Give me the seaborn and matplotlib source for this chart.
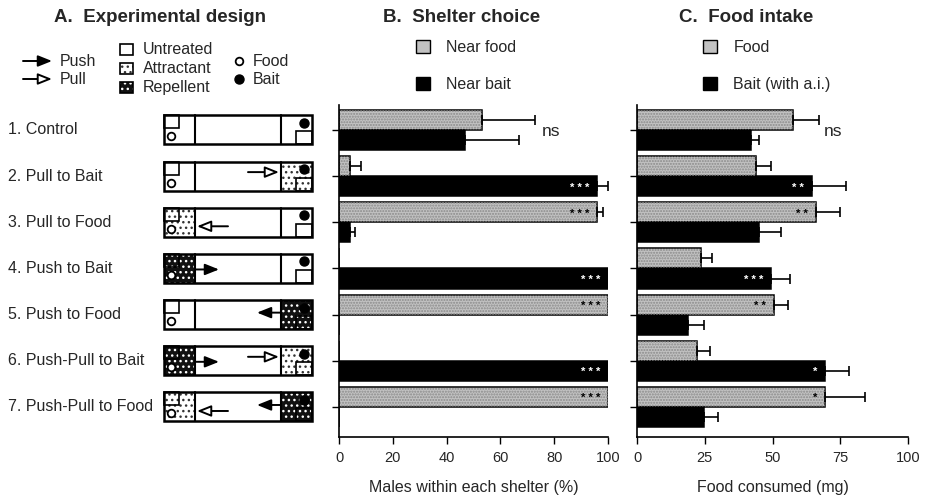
import numpy as np
import pandas as pd
import matplotlib
matplotlib.use("Agg")
import matplotlib.pyplot as plt
import seaborn as sns
from matplotlib.patches import Rectangle, Patch

# ---------------- data ----------------
treatments = ["1. Control", "2. Pull to Bait", "3. Pull to Food", "4. Push to Bait",
              "5. Push to Food", "6. Push-Pull to Bait", "7. Push-Pull to Food"]
left_treat = ["U", "U", "A", "R", "U", "R", "A"]     # U untreated, A attractant, R repellent
right_treat = ["U", "A", "U", "U", "R", "A", "R"]
pull_dir = [0, 1, -1, 0, 0, 1, -1]    # +1 pull toward right (bait), -1 toward left (food)
push_dir = [0, 0, 0, 1, -1, 1, -1]    # +1 push from left, -1 push from right

shelter_series = ["Near food", "Near bait"]
shelter_food = [53, 4, 96, 0, 100, 0, 100]
shelter_food_err = [20, 4, 2, 0, 0, 0, 0]
shelter_bait = [47, 96, 4, 100, 0, 100, 0]
shelter_bait_err = [20, 4, 2, 0, 0, 0, 0]
shelter_food_sig = ["", "", "***", "", "***", "", "***"]
shelter_bait_sig = ["", "***", "", "***", "", "***", ""]

intake_series = ["Food", "Bait (with a.i.)"]
intake_food = [57.5, 44, 66, 23.5, 50.5, 22, 69.5]
intake_food_err = [9.5, 5.5, 9, 4, 5.3, 5, 14.5]
intake_bait = [42, 64.5, 45, 49.5, 19, 69.4, 24.7]
intake_bait_err = [3, 12.5, 8, 7, 5.7, 8.8, 5.3]
intake_food_sig = ["", "", "**", "", "**", "", "*"]
intake_bait_sig = ["", "**", "", "***", "", "*", ""]

shelter_ticks = [0, 20, 40, 60, 80, 100]
intake_ticks = [0, 25, 50, 75, 100]

GREY = "#c2c2c2"
BLACK = "#000000"
FS = 11.5

# ---------------- figure ----------------
W, H = 926, 499
sns.set_theme(style="white")
plt.rcParams["font.family"] = ["Liberation Sans", "DejaVu Sans"]
fig = plt.figure(figsize=(W / 100, H / 100), dpi=100)

def fx(px):
    return px / W

def fy(py):
    return 1 - py / H

y_top_px, y_bot_px = 105, 437
YLIM = (6.65, -0.54)
ax_b = fig.add_axes([fx(339), fy(y_bot_px), fx(608) - fx(339), fy(y_top_px) - fy(y_bot_px)])
ax_c = fig.add_axes([fx(637), fy(y_bot_px), fx(908) - fx(637), fy(y_top_px) - fy(y_bot_px)])
ax_a = fig.add_axes([0, fy(y_bot_px), fx(330), fy(y_top_px) - fy(y_bot_px)])
ax_o = fig.add_axes([0, 0, 1, 1], zorder=-1)
ax_o.set_xlim(0, W)
ax_o.set_ylim(H, 0)
ax_o.axis("off")


def bar_panel(ax, series, v1, e1, v2, e2, s1, s2, ticks, xlabel, ns_x):
    df = pd.DataFrame({
        "treatment": treatments * 2,
        "value": list(v1) + list(v2),
        "series": [series[0]] * len(treatments) + [series[1]] * len(treatments),
    })
    sns.barplot(data=df, y="treatment", x="value", hue="series", hue_order=series,
                order=treatments, orient="h", palette=[GREY, BLACK], saturation=1,
                edgecolor="black", linewidth=1.1, width=0.87, errorbar=None,
                legend=False, ax=ax)
    # stipple texture on the grey bars
    for b in ax.containers[0]:
        if b.get_width() > 0:
            ax.add_patch(Rectangle((b.get_x(), b.get_y()), b.get_width(), b.get_height(),
                                   facecolor="none", edgecolor="#8a8a8a", hatch="......",
                                   lw=0, zorder=2.5))
    for cont, vals, errs, sigs, scol in zip(ax.containers, [v1, v2], [e1, e2], [s1, s2],
                                            ["black", "white"]):
        ys = [b.get_y() + b.get_height() / 2 for b in cont]
        for yv, v, e, s in zip(ys, vals, errs, sigs):
            if e > 0:
                ax.errorbar(v, yv, xerr=[[0], [e]], fmt="none", ecolor="black",
                            elinewidth=1.2, capsize=3.8, capthick=1.2, zorder=3)
            if s:
                ax.text(v - 3, yv + 0.03, " ".join(s), ha="right", va="center",
                        color=scol, fontsize=8, fontweight="bold", zorder=4)
    ax.text(ns_x, 0.03, "ns", ha="left", va="center", fontsize=12.5)
    ax.set_xlim(0, 100)
    ax.set_ylim(*YLIM)
    ax.set_xticks(ticks)
    ax.set_xticklabels([str(t) for t in ticks], fontsize=10.5)
    ax.set_yticks(range(len(treatments)))
    ax.set_yticklabels([])
    ax.set_xlabel(xlabel, fontsize=FS, labelpad=11)
    ax.set_ylabel("")
    ax.tick_params(axis="both", direction="out", length=5, width=1, color="black",
                   left=True, bottom=True, pad=5)
    for sp in ["top", "right"]:
        ax.spines[sp].set_visible(False)
    for sp in ["left", "bottom"]:
        ax.spines[sp].set_color("black")
        ax.spines[sp].set_linewidth(1.2)
    ax.set_facecolor("none")


bar_panel(ax_b, shelter_series, shelter_food, shelter_food_err, shelter_bait,
          shelter_bait_err, shelter_food_sig, shelter_bait_sig, shelter_ticks,
          "Males within each shelter (%)", 75.5)
bar_panel(ax_c, intake_series, intake_food, intake_food_err, intake_bait,
          intake_bait_err, intake_food_sig, intake_bait_sig, intake_ticks,
          "Food consumed (mg)", 69)

# legends for B and C
for ax, series, lx in [(ax_b, shelter_series, 416), (ax_c, intake_series, 703)]:
    handles = [Patch(facecolor=GREY, edgecolor="black", lw=1),
               Patch(facecolor=BLACK, edgecolor="black", lw=1)]
    ax.legend(handles, series, loc="upper left", bbox_to_anchor=(fx(lx), fy(40)),
              bbox_transform=fig.transFigure, frameon=False, fontsize=FS,
              handlelength=0.9, handleheight=0.9, handletextpad=1.0,
              labelspacing=1.35, borderpad=0, borderaxespad=0)

# ---------------- panel A: schematic ----------------
PX = 46.17  # pixels per category unit
ax_a.set_xlim(0, 330)
ax_a.set_ylim(*YLIM)
ax_a.axis("off")


def fill_rect(ax, x, y, w, h, kind, z=2):
    if kind == "U":
        ax.add_patch(Rectangle((x, y), w, h, facecolor="white", edgecolor="none", zorder=z))
    elif kind == "A":
        ax.add_patch(Rectangle((x, y), w, h, facecolor="white", edgecolor="none", zorder=z))
        ax.add_patch(Rectangle((x, y), w, h, facecolor="none", edgecolor="#333333",
                               hatch="...", lw=0, zorder=z))
    else:
        ax.add_patch(Rectangle((x, y), w, h, facecolor="#111111", edgecolor="none", zorder=z))
        ax.add_patch(Rectangle((x, y), w, h, facecolor="none", edgecolor="white",
                               hatch="...", lw=0, zorder=z))


def arrow(ax, x0, x1, y, filled):
    ax.annotate("", xy=(x1, y), xytext=(x0, y),
                arrowprops=dict(arrowstyle="-|>,head_length=0.7,head_width=0.28",
                                lw=1.4, color="black",
                                fc="black" if filled else "white",
                                shrinkA=0, shrinkB=0), zorder=6)


bx0, bx1, dl, dr = 164, 312, 195, 281
bh = 29 / PX
for i, name in enumerate(treatments):
    cy = i
    top = cy - bh / 2
    ax_a.text(8, cy, name, ha="left", va="center", fontsize=FS)
    ax_a.add_patch(Rectangle((bx0, top), bx1 - bx0, bh, facecolor="white",
                             edgecolor="none", zorder=1))
    fill_rect(ax_a, bx0, top, dl - bx0, bh, left_treat[i])
    fill_rect(ax_a, dr, top, bx1 - dr, bh, right_treat[i])
    # shelters
    lk = left_treat[i]
    fill_rect(ax_a, bx0, top, 15, 13 / PX, lk, z=3)
    ax_a.add_patch(Rectangle((bx0, top), 15, 13 / PX, facecolor="none",
                             edgecolor="black", lw=1.2, zorder=3))
    rk = right_treat[i]
    fill_rect(ax_a, bx1 - 16, top + 16 / PX, 16, 13 / PX, rk, z=3)
    ax_a.add_patch(Rectangle((bx1 - 16, top + 16 / PX), 16, 13 / PX, facecolor="none",
                             edgecolor="black", lw=1.2, zorder=3))
    # food & bait
    ax_a.plot([171], [cy + 6.5 / PX], marker="o", ms=5.5, mfc="white", mec="black",
              mew=1.3, zorder=4)
    ax_a.plot([304], [cy - 7 / PX], marker="o", ms=6.5, mfc="black", mec="black", zorder=4)
    # outline
    ax_a.add_patch(Rectangle((bx0, top), bx1 - bx0, bh, facecolor="none",
                             edgecolor="black", lw=1.8, zorder=5))
    ax_a.plot([dl, dl], [top, top + bh], color="black", lw=1.5, zorder=5)
    ax_a.plot([dr, dr], [top, top + bh], color="black", lw=1.5, zorder=5)
    # arrows
    if pull_dir[i] == 1:
        arrow(ax_a, 248, 279, cy - 4 / PX, False)
    elif pull_dir[i] == -1:
        arrow(ax_a, 228, 197, cy + 4 / PX, False)
    if push_dir[i] == 1:
        arrow(ax_a, 195, 219, cy + 1 / PX, True)
    elif push_dir[i] == -1:
        arrow(ax_a, 281, 257, cy - 2 / PX, True)

# ---------------- titles & panel A legend (pixel overlay) ----------------
TFS = 13.5
ax_o.text(54, 17, "A.  Experimental design", fontsize=TFS, fontweight="bold",
          ha="left", va="center")
ax_o.text(383, 17, "B.  Shelter choice", fontsize=TFS, fontweight="bold",
          ha="left", va="center")
ax_o.text(679, 17, "C.  Food intake", fontsize=TFS, fontweight="bold",
          ha="left", va="center")

for yy, lab, filled in [(61, "Push", True), (79, "Pull", False)]:
    ax_o.annotate("", xy=(52, yy), xytext=(23, yy),
                  arrowprops=dict(arrowstyle="-|>,head_length=0.7,head_width=0.28",
                                  lw=1.4, color="black",
                                  fc="black" if filled else "white",
                                  shrinkA=0, shrinkB=0))
    ax_o.text(60, yy, lab, fontsize=FS, ha="left", va="center")

for yy, lab, kind in [(44, "Untreated", "U"), (63, "Attractant", "A"), (82, "Repellent", "R")]:
    fill_rect(ax_o, 120, yy, 13, 11, kind)
    ax_o.add_patch(Rectangle((120, yy), 13, 11, facecolor="none", edgecolor="black",
                             lw=1.2, zorder=3))
    ax_o.text(143, yy + 5.5, lab, fontsize=FS, ha="left", va="center")

ax_o.plot([239], [61], marker="o", ms=5.5, mfc="white", mec="black", mew=1.3)
ax_o.plot([239], [79], marker="o", ms=6.5, mfc="black", mec="black")
ax_o.text(253, 61, "Food", fontsize=FS, ha="left", va="center")
ax_o.text(253, 79, "Bait", fontsize=FS, ha="left", va="center")

fig.savefig("out.png", dpi=100, facecolor="white")
